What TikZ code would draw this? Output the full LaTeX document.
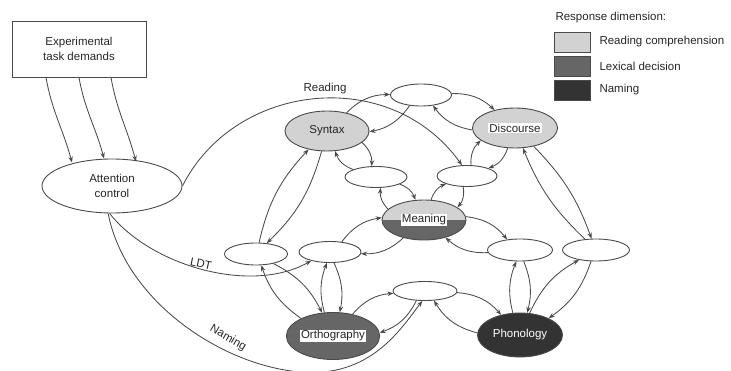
\documentclass[tikz,border=0pt]{standalone}
\usepackage{fontspec}
\setmainfont{Liberation Sans}
\usetikzlibrary{arrows.meta,shapes.geometric}
\definecolor{rc}{HTML}{D2D2D2}
\definecolor{ld}{HTML}{666666}
\definecolor{nm}{HTML}{333333}
\definecolor{ln}{HTML}{4A4A4A}
\newcommand\hlt[1]{{\setlength\fboxsep{1pt}\colorbox{white}{#1}}}
\newcommand\biarr[3]{\draw[arr] (#1) to[bend left=#3] (#2); \draw[arr] (#2) to[bend left=#3] (#1);}
\begin{document}
\begin{tikzpicture}[x=1pt,y=-1pt,
  font=\fontsize{11.5}{15}\selectfont,
  ell/.style={ellipse, draw=ln, line width=0.9pt, inner sep=0pt, fill=white, text=black!85},
  arr/.style={-{Stealth[length=6pt,width=4.5pt]}, draw=ln, line width=0.85pt},
  legbox/.style={draw=ln, line width=0.9pt, minimum width=36pt, minimum height=20pt, inner sep=0pt, anchor=north west},
  lbl/.style={text=black!85}]
\useasboundingbox (0,0) rectangle (731,371);
\clip (0,0) rectangle (731,371);

% nodes
\node[draw=ln, line width=0.9pt, minimum width=134pt, minimum height=56pt, align=center, lbl] (task) at (79,49) {Experimental\\task demands};
\node[ell, minimum width=140pt, minimum height=54pt, align=center] (att) at (112,186) {Attention\\control};

\node[ell, fill=rc, minimum width=84pt, minimum height=40pt] (syn) at (327,131) {Syntax};
\node[ell, minimum width=61pt, minimum height=22pt] (top) at (421,95) {};
\node[ell, fill=rc, minimum width=85pt, minimum height=40pt] (dis) at (515,128) {\hlt{Discourse}};
\node[ell, minimum width=62pt, minimum height=21pt] (lm) at (376,177) {};
\node[ell, minimum width=60pt, minimum height=21pt] (rm) at (467,176) {};
\node[ell, fill=rc, minimum width=84pt, minimum height=40pt,
  path picture={\fill[ld] (path picture bounding box.west) rectangle (path picture bounding box.south east);}] (mea) at (424,220) {\hlt{Meaning}};
\node[ell, minimum width=63pt, minimum height=22pt] (l1) at (256,254) {};
\node[ell, minimum width=62pt, minimum height=21pt] (l2) at (330,252) {};
\node[ell, fill=ld, minimum width=86pt, minimum height=47pt] (ort) at (333,336) {\hlt{Orthography}};
\node[ell, minimum width=64pt, minimum height=19pt] (bot) at (425,291) {};
\node[ell, fill=nm, text=white, minimum width=85pt, minimum height=44pt] (pho) at (520,335) {Phonology};
\node[ell, minimum width=65pt, minimum height=22pt] (r1) at (520,250) {};
\node[ell, minimum width=67pt, minimum height=22pt] (r2) at (596,250) {};

% legend
\node[anchor=west, lbl] (legt) at (552,18) {Response dimension:};
\node[legbox, fill=rc] (lb1) at (554,32) {};
\node[legbox, fill=ld] (lb2) at (554,56) {};
\node[legbox, fill=nm] (lb3) at (554,80) {};
\node[anchor=west, lbl] (lt1) at (596,42) {Reading comprehension};
\node[anchor=west, lbl] (lt2) at (596,66) {Lexical decision};
\node[anchor=west, lbl] (lt3) at (596,90) {Naming};

% task demands arrows
\draw[arr] ([xshift=-33pt]task.south) to[out=-80,in=105] ([xshift=-40pt,yshift=-4pt]att.north);
\draw[arr] (task.south) to[out=-80,in=105] ([xshift=-8pt]att.north);
\draw[arr] ([xshift=32pt]task.south) to[out=-80,in=105] ([xshift=24pt,yshift=-3pt]att.north);

% control curves
\draw[arr] (att.east) .. controls (235,82) and (390,65) .. (rm.115);
\node[lbl] (rdl) at (325,89) {Reading};
\draw[arr] (att.265) .. controls (150,265) and (250,295) .. (l2.205);
\node[lbl, rotate=-12] (ldl) at (201,264) {LDT};
\draw[arr] (att.262) .. controls (125,300) and (220,365) .. (300,372) .. controls (370,378) and (400,330) .. (bot.255);
\node[lbl, rotate=-30] (nml) at (228,338) {Naming};

% bidirectional pairs
\biarr{syn}{top}{22}
\biarr{top}{dis}{22}
\biarr{syn}{lm}{25}
\biarr{lm}{mea}{25}
\biarr{dis}{rm}{25}
\biarr{rm}{mea}{25}
\biarr{syn}{l1}{15}
\biarr{mea}{l2}{22}
\biarr{mea}{r1}{22}
\biarr{l1}{ort}{18}
\biarr{l2}{ort}{18}
\biarr{ort}{bot}{22}
\biarr{bot}{pho}{22}
\biarr{r1}{pho}{18}
\biarr{r2}{pho}{18}
\biarr{dis}{r2}{12}
\end{tikzpicture}
\end{document}
